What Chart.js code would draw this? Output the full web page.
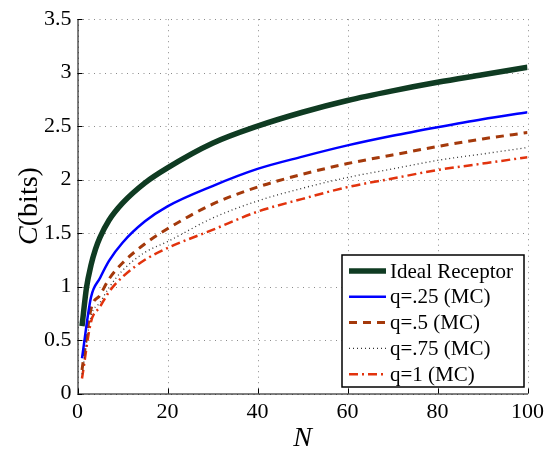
<!DOCTYPE html>
<html>
<head>
<meta charset="utf-8">
<script src="https://cdn.jsdelivr.net/npm/chart.js@4/dist/chart.umd.min.js"></script>
<style>
  html, body { margin: 0; padding: 0; background: #fff; }
  #wrap { width: 550px; height: 452px; }
</style>
</head>
<body>
<div id="wrap"><canvas id="capChart" width="550" height="452"></canvas></div>
<script>
// N values (x) for each kind of curve
const idealN = [1, 2, 3, 4, 5, 7, 10, 15, 20, 30, 40, 50, 60, 70, 80, 90, 100];
const mcN = [1, 3, 5, 7, 10, 15, 20, 30, 40, 50, 60, 70, 80, 90, 100];

// capacity C in bits
const idealC = [0.63, 0.99, 1.20, 1.35, 1.46, 1.62, 1.78, 1.97, 2.11, 2.34, 2.50, 2.63, 2.74, 2.83, 2.91, 2.98, 3.05];
const q25C = [0.33, 0.90, 1.08, 1.24, 1.41, 1.61, 1.75, 1.94, 2.10, 2.215, 2.32, 2.41, 2.49, 2.565, 2.63];
const q50C = [0.22, 0.79, 0.92, 1.07, 1.22, 1.40, 1.54, 1.77, 1.93, 2.05, 2.15, 2.23, 2.31, 2.38, 2.44];
const q75C = [0.18, 0.72, 0.85, 0.99, 1.15, 1.32, 1.42, 1.64, 1.80, 1.92, 2.02, 2.10, 2.18, 2.24, 2.30];
const q100C = [0.14, 0.67, 0.81, 0.95, 1.09, 1.25, 1.36, 1.53, 1.70, 1.82, 1.93, 2.01, 2.09, 2.15, 2.21];

const seriesLabels = ['Ideal Receptor', 'q=.25 (MC)', 'q=.5 (MC)', 'q=.75 (MC)', 'q=1 (MC)'];
const xTicks = [0, 20, 40, 60, 80, 100];
const yTicks = [0, 0.5, 1, 1.5, 2, 2.5, 3, 3.5];

const SERIF = '"Liberation Serif", "DejaVu Serif", serif';
Chart.defaults.font.family = SERIF;

function pts(ns, cs) {
  return ns.map((n, i) => ({ x: n, y: cs[i] }));
}

// dotted grid under the curves
const dottedGrid = {
  id: 'dottedGrid',
  beforeDatasetsDraw(chart) {
    const ctx = chart.ctx;
    const a = chart.chartArea;
    const xs = chart.scales.x, ys = chart.scales.y;
    ctx.save();
    ctx.strokeStyle = '#8a8a8a';
    ctx.lineWidth = 1;
    ctx.setLineDash([1, 4.5]);
    xTicks.forEach(v => {
      const px = Math.round(xs.getPixelForValue(v)) + 0.5;
      ctx.beginPath();
      ctx.moveTo(px, a.top); ctx.lineTo(px, a.bottom);
      ctx.stroke();
    });
    yTicks.forEach(v => {
      const py = Math.round(ys.getPixelForValue(v)) + 0.5;
      ctx.beginPath();
      ctx.moveTo(a.left, py); ctx.lineTo(a.right, py);
      ctx.stroke();
    });
    ctx.restore();
  }
};

// axes lines, inward ticks, axis titles, legend inside the plot
const matlabLook = {
  id: 'matlabLook',
  afterDraw(chart) {
    const ctx = chart.ctx;
    const a = chart.chartArea;
    const xs = chart.scales.x, ys = chart.scales.y;
    ctx.save();
    ctx.strokeStyle = '#000';
    ctx.lineWidth = 1;
    ctx.beginPath();
    ctx.moveTo(a.left + 0.5, a.top);
    ctx.lineTo(a.left + 0.5, a.bottom + 0.5);
    ctx.lineTo(a.right + 0.5, a.bottom + 0.5);
    ctx.stroke();
    // tick marks pointing inwards
    xTicks.forEach(v => {
      const px = Math.round(xs.getPixelForValue(v)) + 0.5;
      ctx.beginPath();
      ctx.moveTo(px, a.bottom); ctx.lineTo(px, a.bottom - 5);
      ctx.stroke();
    });
    yTicks.forEach(v => {
      const py = Math.round(ys.getPixelForValue(v)) + 0.5;
      ctx.beginPath();
      ctx.moveTo(a.left, py); ctx.lineTo(a.left + 5, py);
      ctx.stroke();
    });

    // axis titles
    ctx.fillStyle = '#000';
    ctx.textBaseline = 'alphabetic';
    ctx.font = 'italic 28px ' + SERIF;
    ctx.textAlign = 'center';
    ctx.fillText('N', (a.left + a.right) / 2, 446);

    ctx.save();
    ctx.translate(37, 206);
    ctx.rotate(-Math.PI / 2);
    ctx.font = 'italic 28px ' + SERIF;
    const wC = ctx.measureText('C').width;
    ctx.font = '28px ' + SERIF;
    const wB = ctx.measureText('(bits)').width;
    const x0 = -(wC + wB) / 2;
    ctx.textAlign = 'left';
    ctx.font = 'italic 28px ' + SERIF;
    ctx.fillText('C', x0, 0);
    ctx.font = '28px ' + SERIF;
    ctx.fillText('(bits)', x0 + wC, 0);
    ctx.restore();

    // legend
    const lx = 342, ly = 255, lw = 182, lh = 132;
    ctx.fillStyle = '#fff';
    ctx.fillRect(lx, ly, lw, lh);
    ctx.lineWidth = 1.5;
    ctx.strokeStyle = '#000';
    ctx.strokeRect(lx, ly, lw, lh);
    ctx.font = '21px ' + SERIF;
    ctx.textAlign = 'left';
    ctx.textBaseline = 'middle';
    chart.data.datasets.forEach((ds, i) => {
      const yy = 271 + i * 25.8;
      ctx.save();
      ctx.strokeStyle = ds.borderColor;
      ctx.lineWidth = ds.borderWidth;
      ctx.setLineDash(ds.borderDash || []);
      ctx.beginPath();
      ctx.moveTo(349, yy);
      ctx.lineTo(386, yy);
      ctx.stroke();
      ctx.restore();
      ctx.fillStyle = '#000';
      ctx.fillText(ds.label, 390, yy + 1);
    });
    ctx.restore();
  }
};

const ctx = document.getElementById('capChart').getContext('2d');
new Chart(ctx, {
  type: 'line',
  data: {
    datasets: [
      { label: seriesLabels[0], data: pts(idealN, idealC), borderColor: '#0f3b22', borderWidth: 5.5 },
      { label: seriesLabels[1], data: pts(mcN, q25C), borderColor: '#0000ff', borderWidth: 2.5 },
      { label: seriesLabels[2], data: pts(mcN, q50C), borderColor: '#a4390b', borderWidth: 3, borderDash: [8, 6] },
      { label: seriesLabels[3], data: pts(mcN, q75C), borderColor: '#333333', borderWidth: 1.3, borderDash: [1, 3] },
      { label: seriesLabels[4], data: pts(mcN, q100C), borderColor: '#e2330d', borderWidth: 2.5, borderDash: [9, 4, 2, 4] }
    ]
  },
  options: {
    responsive: false,
    animation: false,
    elements: {
      point: { radius: 0 },
      line: { cubicInterpolationMode: 'monotone', borderCapStyle: 'butt' }
    },
    layout: { padding: { top: 17, right: 20, left: 0, bottom: 0 } },
    plugins: {
      legend: { display: false },
      tooltip: { enabled: false }
    },
    scales: {
      x: {
        type: 'linear',
        min: 0, max: 100,
        afterFit: s => { s.height = 58.5; },
        afterBuildTicks: s => { s.ticks = xTicks.map(v => ({ value: v })); },
        grid: { display: false, drawTicks: false },
        border: { display: false },
        ticks: { color: '#000', font: { family: SERIF, size: 22 }, padding: 6, callback: v => String(v) }
      },
      y: {
        min: 0, max: 3.5,
        afterFit: s => { s.width = 77.5; },
        afterBuildTicks: s => { s.ticks = yTicks.map(v => ({ value: v })); },
        grid: { display: false, drawTicks: false },
        border: { display: false },
        ticks: { color: '#000', font: { family: SERIF, size: 22 }, padding: 6, callback: v => String(v) }
      }
    }
  },
  plugins: [dottedGrid, matlabLook]
});
</script>
</body>
</html>
